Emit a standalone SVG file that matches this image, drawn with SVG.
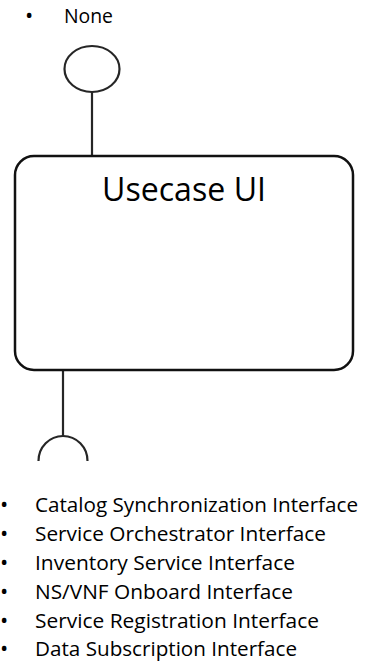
<svg xmlns="http://www.w3.org/2000/svg" width="366" height="662" viewBox="0 0 366 662">
<style>
.t{font-family:"Open Sans","Noto Sans","Liberation Sans",sans-serif;fill:#000}
.li{font-size:20px}
.b{font-size:22px}
.ln{fill:none;stroke:#262626;stroke-width:2.2}
</style>
<rect width="366" height="662" fill="#fff"/>
<g id="provided">
<text class="t b" x="25" y="23">•</text>
<text class="t li" x="64" y="23" textLength="49" lengthAdjust="spacingAndGlyphs">None</text>
</g>
<g id="connectors">
<line class="ln" x1="92" y1="92" x2="92" y2="156"/>
<line class="ln" x1="63" y1="370" x2="63" y2="436"/>
</g>
<g id="provided-port">
<ellipse class="ln" cx="92" cy="69" rx="27.5" ry="23"/>
</g>
<g id="required-port">
<path class="ln" d="M38.5,461 A24.5,25 0 0 1 87.5,461"/>
</g>
<g id="usecase-ui">
<rect x="15" y="156" width="338" height="214" rx="19" ry="19" fill="#fff" stroke="#111" stroke-width="2.5"/>
<text class="t" x="102" y="201" font-size="33.6" textLength="164" lengthAdjust="spacingAndGlyphs">Usecase UI</text>
</g>
<g id="required">
<text class="t b" x="0" y="512">•</text>
<text class="t li" x="35" y="512" textLength="323" lengthAdjust="spacingAndGlyphs">Catalog Synchronization Interface</text>
<text class="t b" x="0" y="541">•</text>
<text class="t li" x="35" y="541" textLength="291" lengthAdjust="spacingAndGlyphs">Service Orchestrator Interface</text>
<text class="t b" x="0" y="570">•</text>
<text class="t li" x="35" y="570" textLength="260" lengthAdjust="spacingAndGlyphs">Inventory Service Interface</text>
<text class="t b" x="0" y="599">•</text>
<text class="t li" x="35" y="599" textLength="258" lengthAdjust="spacingAndGlyphs">NS/VNF Onboard Interface</text>
<text class="t b" x="0" y="628">•</text>
<text class="t li" x="35" y="628" textLength="284" lengthAdjust="spacingAndGlyphs">Service Registration Interface</text>
<text class="t b" x="0" y="656">•</text>
<text class="t li" x="35" y="656" textLength="262" lengthAdjust="spacingAndGlyphs">Data Subscription Interface</text>
</g>
</svg>
